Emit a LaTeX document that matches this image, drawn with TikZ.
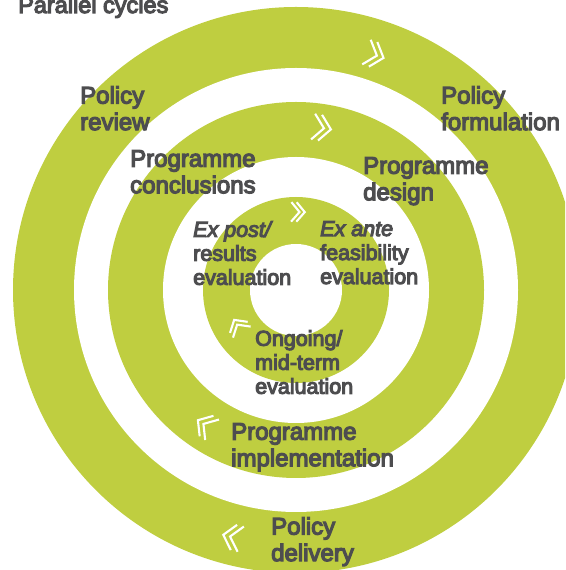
\documentclass[tikz,border=0pt]{standalone}
\usepackage{fontspec}
\setmainfont{Liberation Sans}
\newfontfamily\lbl{Liberation Sans}[FakeBold=5]
\definecolor{lime}{RGB}{191,206,64}
\definecolor{txt}{RGB}{77,77,79}
\tikzset{
  outer/.style={anchor=north west, inner sep=0pt, align=left, text=txt, font={\lbl\fontsize{24}{26.5}\selectfont}},
  inner/.style={anchor=north west, inner sep=0pt, align=left, text=txt, font={\lbl\fontsize{21.5}{24}\selectfont}},
  chev/.style={draw=white, line width=2.1pt, line cap=butt, line join=miter},
}
\newcommand\chevron[3]{% position, direction angle, scale
  \begin{scope}[shift={(#1)}, rotate=#2, scale=#3]
    \draw[chev] (-2,13)--(9,0)--(-2,-13);
    \draw[chev] (-9,13)--(2,0)--(-9,-13);
  \end{scope}}
\begin{document}
\begin{tikzpicture}[x=1pt,y=1pt]
\useasboundingbox (0,0) rectangle (565,570);
\clip (0,0) rectangle (565,570);
\coordinate (c) at (296,280);
\fill[lime] (c) circle (283);
\fill[white] (c) circle (222);
\fill[lime] (c) circle (188);
\fill[white] (c) circle (133);
\fill[lime] (c) circle (93);
\fill[white] (c) circle (46);

\chevron{375,515}{-19}{1.0}
\chevron{232,33}{166}{1.0}
\chevron{322,442}{-9}{1.0}
\chevron{205,145}{146}{0.95}
\chevron{298,358}{-1}{0.75}
\chevron{238,244}{122}{0.8}

\node[anchor=base west, inner sep=0pt, text=txt, font={\lbl\fontsize{23.5}{26}\selectfont}] (title) at (18,557) {Parallel cycles};
\node[outer] (polrev) at (80,484) {Policy\\review};
\node[outer] (polform) at (441,484) {Policy\\formulation};
\node[outer] (progconc) at (130,420) {Programme\\conclusions};
\node[outer] (progdes) at (363,413) {Programme\\design};
\node[inner] (expost) at (193,349) {\itshape Ex post/\\\upshape results\\evaluation};
\node[inner] (exante) at (320,349) {\itshape Ex ante\\\upshape feasibility\\evaluation};
\node[inner] (ongoing) at (255,240) {Ongoing/\\mid-term\\evaluation};
\node[outer] (progimp) at (231,147) {Programme\\implementation};
\node[outer] (poldel) at (271,53) {Policy\\delivery};
\end{tikzpicture}
\end{document}
